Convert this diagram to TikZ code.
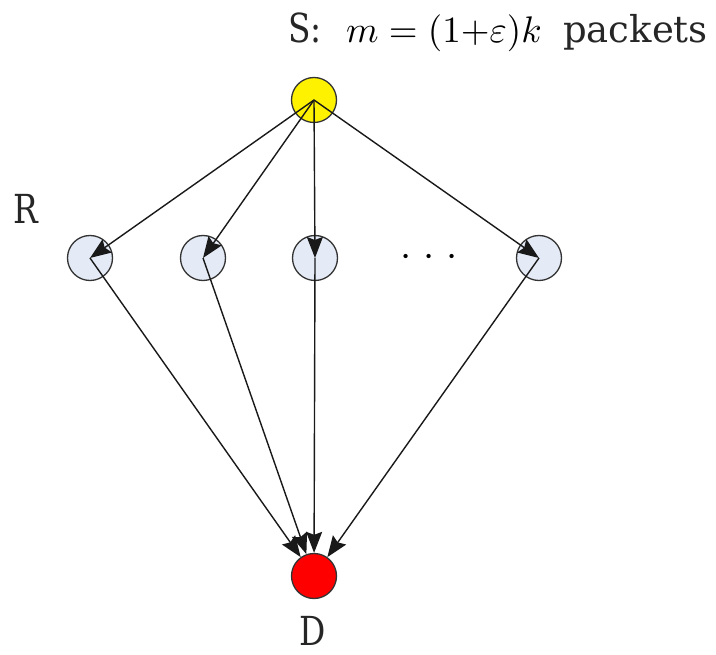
\documentclass[tikz,border=0pt]{standalone}
\usepackage{fontspec}
\usepackage{graphicx}
\setmainfont{DejaVu Serif}[FakeStretch=0.82]
\newfontfamily\widefont{DejaVu Serif}
\usetikzlibrary{arrows.meta}
\definecolor{rfill}{RGB}{228,235,246}
\tikzset{
  nd/.style={circle,draw=black!80,line width=1.3pt,minimum size=45pt,inner sep=0pt},
  arr/.style={-{Stealth[length=21pt,width=16pt,inset=3pt]},line width=1.4pt,black!90},
  lbl/.style={font=\fontsize{40}{48}\selectfont,inner sep=0pt,text=black!85}
}
\begin{document}
\begin{tikzpicture}[x=1pt,y=-1pt]
\useasboundingbox (0,0) rectangle (716,655);
\node[nd,fill=yellow] (S) at (314,100) {};
\node[nd,fill=rfill] (R1) at (90,258) {};
\node[nd,fill=rfill] (R2) at (203,258) {};
\node[nd,fill=rfill] (R3) at (315,258) {};
\node[nd,fill=rfill] (R4) at (539,258) {};
\node[nd,fill=red] (D) at (314,576) {};
\node[lbl,anchor=base west] (st) at (288,43) {S:};
\node[inner sep=0pt,anchor=base west] (sm) at (346,43) {\scalebox{3.7}{$m=(1{+}\varepsilon)k$}};
\node[lbl,anchor=base west,font=\widefont\fontsize{37}{44}\selectfont] (sp) at (563,43) {packets};
\node[lbl,anchor=base] (rl) at (26,224) {R};
\node[lbl,anchor=base] (dl) at (313,645) {D};
\node[inner sep=0pt] (dots) at (429,258) {\scalebox{4}{$\cdot$\hspace{3pt}$\cdot$\hspace{3pt}$\cdot$}};
\foreach \r in {R1,R2,R3,R4}{
  \draw[arr] (S.center) -- (\r.center);
  \draw[arr] (\r.center) -- (D);
}
\end{tikzpicture}
\end{document}
